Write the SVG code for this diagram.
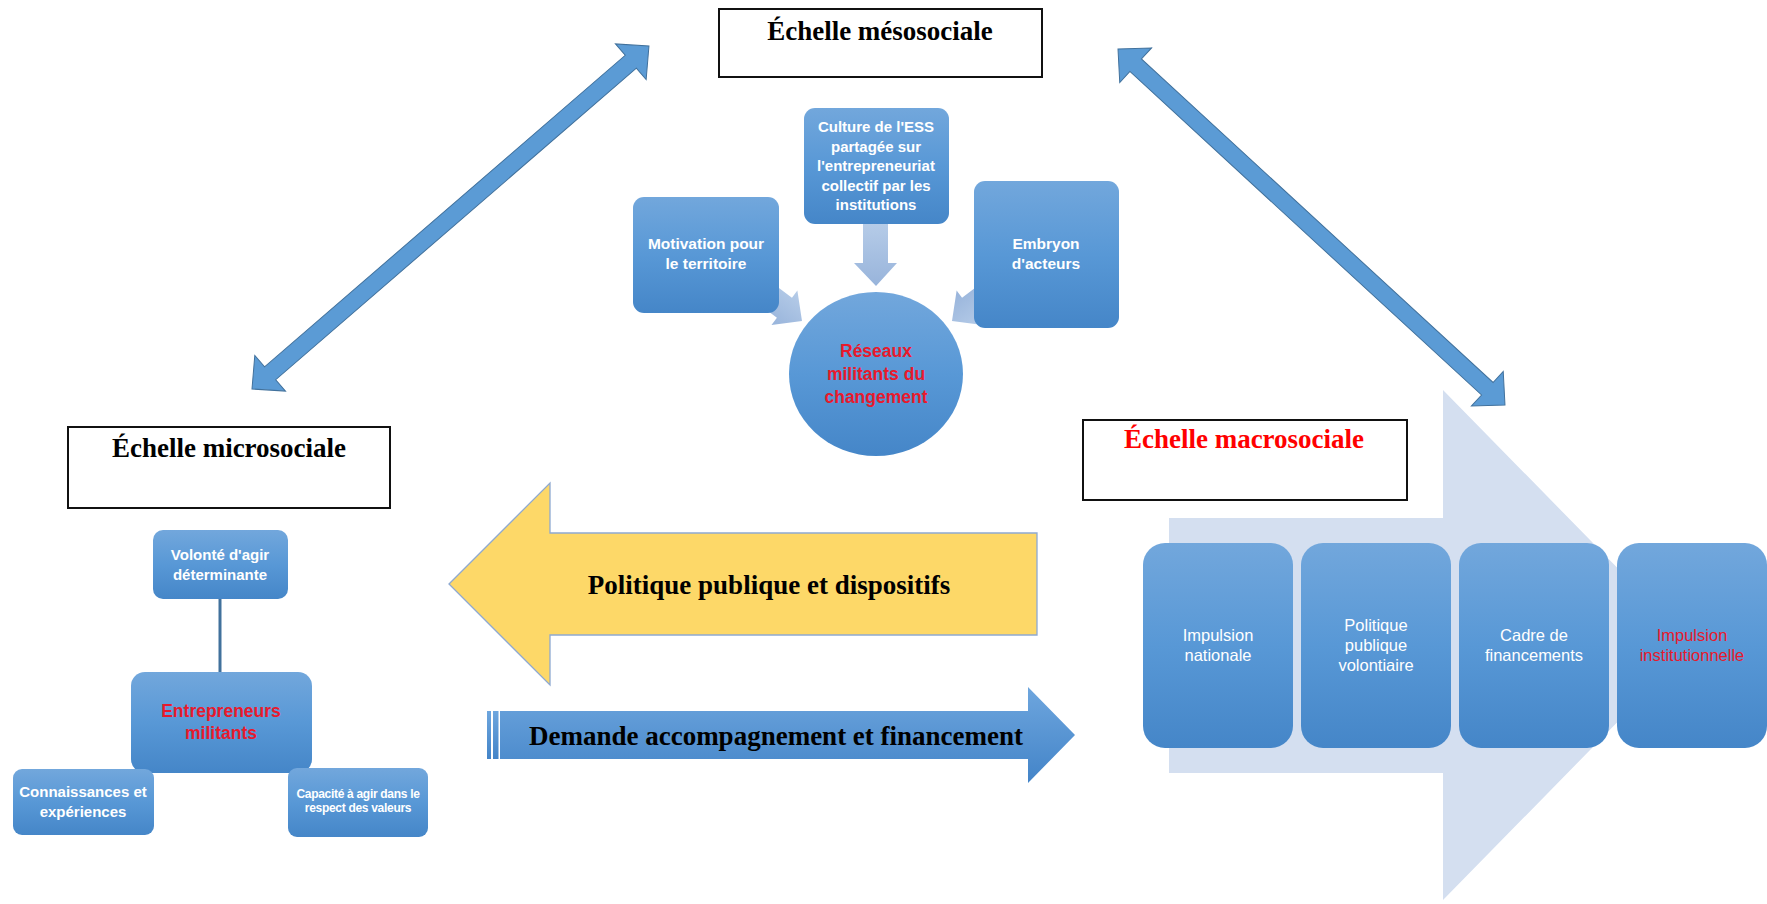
<svg xmlns="http://www.w3.org/2000/svg" width="1767" height="904" viewBox="0 0 1767 904">
<defs>
<linearGradient id="gBox" x1="0" y1="0" x2="0" y2="1">
<stop offset="0" stop-color="#72a7dc"/>
<stop offset="0.5" stop-color="#5898d6"/>
<stop offset="1" stop-color="#4586c8"/>
</linearGradient>
<linearGradient id="gLight" x1="0" y1="0" x2="0" y2="1">
<stop offset="0" stop-color="#b6cce8"/>
<stop offset="1" stop-color="#98b4db"/>
</linearGradient>
<linearGradient id="gBlueArrow" x1="0" y1="0" x2="0" y2="1">
<stop offset="0" stop-color="#6ea6de"/>
<stop offset="1" stop-color="#4384c8"/>
</linearGradient>
<style>
.title{font-family:"Liberation Serif","Times New Roman",serif;font-weight:bold;font-size:27px;text-anchor:middle;fill:#000}
.tbox{fill:#fff;stroke:#111;stroke-width:2}
.box{fill:url(#gBox)}
.lt{fill:url(#gLight)}
.wt{font-family:"Liberation Sans",Arial,sans-serif;font-weight:bold;font-size:15px;fill:#fff;text-anchor:middle}
.rt{font-family:"Liberation Sans",Arial,sans-serif;font-weight:bold;font-size:17.5px;fill:#e8192c;text-anchor:middle}
.mt{font-family:"Liberation Sans",Arial,sans-serif;font-size:16.5px;fill:#fff;text-anchor:middle}
.dbl{fill:#5b9bd5;stroke:#41719c;stroke-width:1}
.lab{font-family:"Liberation Serif","Times New Roman",serif;font-weight:bold;font-size:27px;text-anchor:middle;fill:#000}
</style>
</defs>
<rect width="1767" height="904" fill="#fff"/>

<g id="macro-backdrop">
<polygon points="1169,518 1443,518 1443,390 1693,645 1443,900 1443,773 1169,773" fill="#d4dff0"/>
</g>

<g id="connectors">
<polygon class="dbl" transform="translate(252,389) rotate(-40.83)" points="0,0 24,-23.5 24,-8.5 500.6,-8.5 500.6,-23.5 524.6,0 500.6,23.5 500.6,8.5 24,8.5 24,23.5"/>
<polygon class="dbl" transform="translate(1118,49) rotate(42.61)" points="0,0 24,-23.5 24,-8.5 501.8,-8.5 501.8,-23.5 525.8,0 501.8,23.5 501.8,8.5 24,8.5 24,23.5"/>
<polygon class="lt" points="863,222 888,222 888,263 897,263 876,286 854,263 863,263"/>
<polygon class="lt" transform="translate(802,321) rotate(37)" points="-22,-21.5 0,0 -22,21.5 -22,12.5 -80,12.5 -80,-12.5 -22,-12.5"/>
<polygon class="lt" transform="translate(952,321) rotate(143)" points="-22,-21.5 0,0 -22,21.5 -22,12.5 -80,12.5 -80,-12.5 -22,-12.5"/>
<line x1="220" y1="598" x2="220" y2="673" stroke="#41719c" stroke-width="3"/>
<g id="arrow-politique">
<polygon points="449,584 550,483 550,533 1037,533 1037,635 550,635 550,685" fill="#fdd868" stroke="#8ea9d1" stroke-width="1.3"/>
<text class="lab" x="769" y="594">Politique publique et dispositifs</text>
</g>
<g id="arrow-demande">
<rect x="487" y="711" width="4" height="48" fill="url(#gBlueArrow)"/>
<rect x="493" y="711" width="5.5" height="48" fill="url(#gBlueArrow)"/>
<polygon points="500,711 1028,711 1028,687 1075,735 1028,783 1028,759 500,759" fill="url(#gBlueArrow)"/>
<text class="lab" x="776" y="745">Demande accompagnement et financement</text>
</g>
</g>

<g id="title-meso">
<rect class="tbox" x="719" y="9" width="323" height="68"/>
<text class="title" x="880" y="40">Échelle mésosociale</text>
</g>
<g id="title-micro">
<rect class="tbox" x="68" y="427" width="322" height="81"/>
<text class="title" x="229" y="457">Échelle microsociale</text>
</g>
<g id="title-macro">
<rect class="tbox" x="1083" y="420" width="324" height="80"/>
<text class="title" x="1244" y="448" style="fill:#ff0000">Échelle macrosociale</text>
</g>

<g id="node-culture">
<rect class="box" x="804" y="108" width="145" height="116" rx="11"/>
<text class="wt" x="876"><tspan x="876" y="132">Culture de l'ESS</tspan><tspan x="876" y="151.5">partagée sur</tspan><tspan x="876" y="171">l'entrepreneuriat</tspan><tspan x="876" y="190.5">collectif par les</tspan><tspan x="876" y="210">institutions</tspan></text>
</g>
<g id="node-motivation">
<rect class="box" x="633" y="197" width="146" height="116" rx="11"/>
<text class="wt" style="font-size:15.5px"><tspan x="706" y="249">Motivation pour</tspan><tspan x="706" y="269">le territoire</tspan></text>
</g>
<g id="node-embryon">
<rect class="box" x="974" y="181" width="145" height="147" rx="11"/>
<text class="wt" style="font-size:15.5px"><tspan x="1046" y="249">Embryon</tspan><tspan x="1046" y="269">d'acteurs</tspan></text>
</g>
<g id="node-reseaux">
<ellipse class="box" cx="876" cy="374" rx="87" ry="82"/>
<text class="rt"><tspan x="876" y="357">Réseaux</tspan><tspan x="876" y="380">militants du</tspan><tspan x="876" y="403">changement</tspan></text>
</g>

<g id="node-volonte">
<rect class="box" x="153" y="530" width="135" height="69" rx="10"/>
<text class="wt"><tspan x="220" y="560">Volonté d'agir</tspan><tspan x="220" y="580">déterminante</tspan></text>
</g>
<g id="node-entrepreneurs">
<rect class="box" x="131" y="672" width="181" height="101" rx="14"/>
<text class="rt"><tspan x="221" y="717">Entrepreneurs</tspan><tspan x="221" y="739">militants</tspan></text>
</g>
<g id="node-connaissances">
<rect class="box" x="13" y="769" width="141" height="66" rx="9"/>
<text class="wt"><tspan x="83" y="797">Connaissances et</tspan><tspan x="83" y="817">expériences</tspan></text>
</g>
<g id="node-capacite">
<rect class="box" x="288" y="768" width="140" height="69" rx="9"/>
<text class="wt" style="font-size:12px;letter-spacing:-0.3px"><tspan x="358" y="798">Capacité à agir dans le</tspan><tspan x="358" y="812">respect des valeurs</tspan></text>
</g>

<g id="node-impulsion-nationale">
<rect class="box" x="1143" y="543" width="150" height="205" rx="22"/>
<text class="mt"><tspan x="1218" y="641">Impulsion</tspan><tspan x="1218" y="661">nationale</tspan></text>
</g>
<g id="node-politique-volontiaire">
<rect class="box" x="1301" y="543" width="150" height="205" rx="22"/>
<text class="mt"><tspan x="1376" y="631">Politique</tspan><tspan x="1376" y="651">publique</tspan><tspan x="1376" y="671">volontiaire</tspan></text>
</g>
<g id="node-cadre">
<rect class="box" x="1459" y="543" width="150" height="205" rx="22"/>
<text class="mt"><tspan x="1534" y="641">Cadre de</tspan><tspan x="1534" y="661">financements</tspan></text>
</g>
<g id="node-impulsion-institutionnelle">
<rect class="box" x="1617" y="543" width="150" height="205" rx="22"/>
<text class="mt" style="fill:#e8192c"><tspan x="1692" y="641">Impulsion</tspan><tspan x="1692" y="661">institutionnelle</tspan></text>
</g>
</svg>
